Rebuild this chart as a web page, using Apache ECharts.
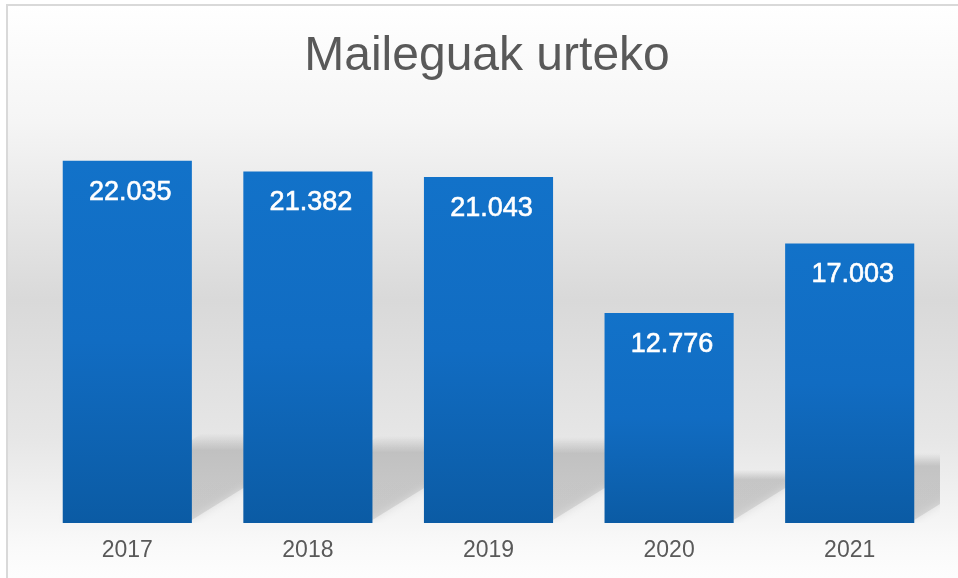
<!DOCTYPE html>
<html>
<head>
<meta charset="utf-8">
<title>Maileguak urteko</title>
<script src="https://cdn.jsdelivr.net/npm/echarts@6/dist/echarts.min.js"></script>
<style>
    html, body { margin: 0; padding: 0; background: #ffffff; }
    #main { width: 958px; height: 578px; }
</style>
</head>
<body>
<div id="main"></div>
<script>
    // datuak
    var years = ['2017', '2018', '2019', '2020', '2021'];
    var loans = [22.035, 21.382, 21.043, 12.776, 17.003];

    var myChart = echarts.init(document.getElementById('main'));

    // zenbakiak euskal formatuan (puntua milakoentzat)
    function fmt(v) {
        return v.toFixed(3);
    }

    // barren atzeko itzala (perspektiba)
    function renderShadow(params, api) {
        var base = api.coord([api.value(0), 0]);
        var top = api.coord([api.value(0), api.value(1)]);
        var bw = api.size([1, 0])[0] * 0.715;
        var left = base[0] - bw / 2;
        var right = base[0] + bw / 2;
        var h = (base[1] - top[1]) * 0.24;
        var dx = h / 0.62;
        var y0 = base[1] - 3;
        return {
            type: 'polygon',
            shape: {
                points: [[left, y0], [right, y0], [right + dx, y0 - h], [left + dx, y0 - h]]
            },
            style: {
                fill: new echarts.graphic.LinearGradient(0, 0, 0, 1, [
                    {offset: 0, color: 'rgba(0,0,0,0)'},
                    {offset: 0.2, color: 'rgba(0,0,0,0.09)'},
                    {offset: 1, color: 'rgba(0,0,0,0.09)'}
                ]),
                shadowBlur: 9,
                shadowColor: 'rgba(0,0,0,1)'
            }
        };
    }

    var option = {
        animation: false,
        graphic: [{
            type: 'rect',
            z: -10,
            shape: {x: 7, y: 5, width: 990, height: 590},
            style: {
                fill: new echarts.graphic.LinearGradient(0, 0, 0, 1, [
                    {offset: 0, color: '#ffffff'},
                    {offset: 0.2, color: '#f5f5f5'},
                    {offset: 0.5, color: '#d9d9d9'},
                    {offset: 0.73, color: '#e6e6e6'},
                    {offset: 0.92, color: '#fafafa'},
                    {offset: 1, color: '#ffffff'}
                ]),
                stroke: '#d9d9d9',
                lineWidth: 2
            }
        }],
        title: {
            text: 'Maileguak urteko',
            left: 482,
            textAlign: 'center',
            top: 28,
            textStyle: {
                fontFamily: 'Liberation Sans, Arial, sans-serif',
                fontSize: 48,
                fontWeight: 'normal',
                color: '#595959'
            }
        },
        grid: {
            left: 37,
            right: 18,
            top: 112,
            bottom: 55
        },
        xAxis: {
            type: 'category',
            data: years,
            axisLine: {show: false},
            axisTick: {show: false},
            axisLabel: {
                margin: 16,
                fontFamily: 'Liberation Sans, Arial, sans-serif',
                fontSize: 23,
                color: '#595959'
            }
        },
        yAxis: {
            type: 'value',
            min: 0,
            max: 25,
            show: false
        },
        series: [{
            type: 'custom',
            z: 1,
            clip: true,
            silent: true,
            renderItem: renderShadow,
            data: loans.map(function (v, i) { return [i, v]; })
        }, {
            name: 'Maileguak',
            type: 'bar',
            z: 2,
            data: loans,
            barCategoryGap: '28.5%',
            itemStyle: {
                color: new echarts.graphic.LinearGradient(0, 0, 0, 1, [
                    {offset: 0, color: '#1272c9'},
                    {offset: 0.5, color: '#116cc2'},
                    {offset: 1, color: '#0b5ba4'}
                ])
            },
            label: {
                show: true,
                position: 'insideTop',
                distance: 18,
                offset: [3, 0],
                formatter: function (p) { return fmt(p.value); },
                fontFamily: 'Liberation Sans, Arial, sans-serif',
                fontSize: 27,
                color: '#ffffff',
                textBorderColor: '#ffffff',
                textBorderWidth: 0.6
            }
        }]
    };

    myChart.setOption(option);
</script>
</body>
</html>
